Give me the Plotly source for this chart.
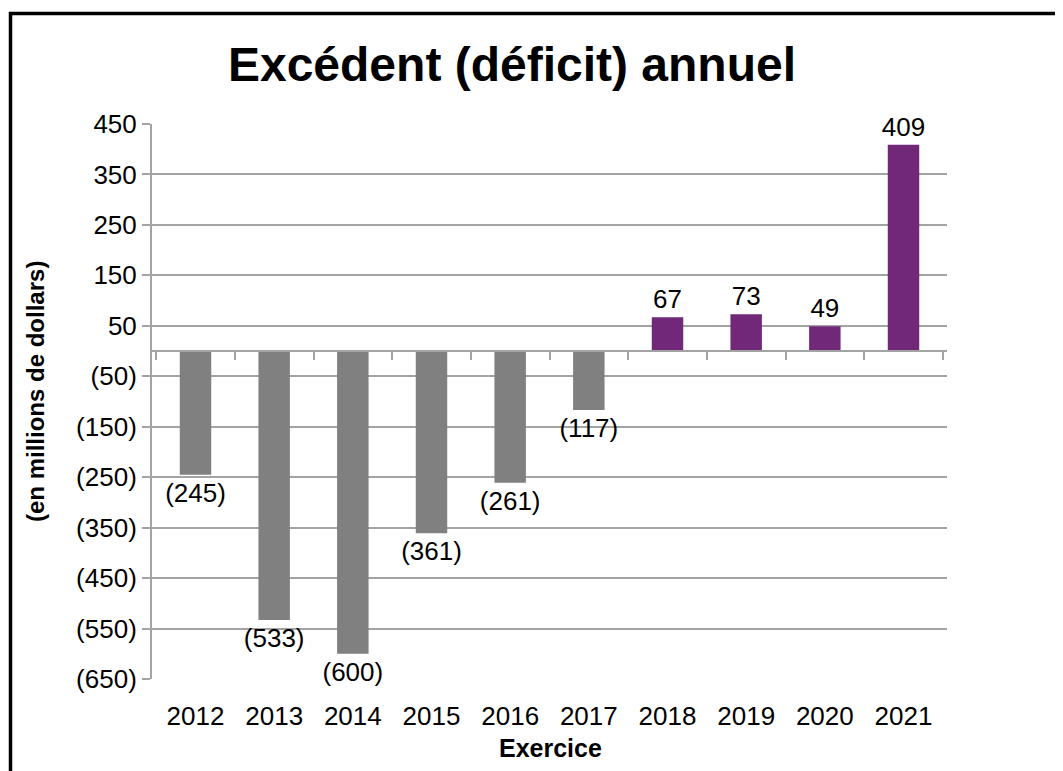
import plotly.graph_objects as go

years = ["2012", "2013", "2014", "2015", "2016", "2017", "2018", "2019", "2020", "2021"]
values = [-245, -533, -600, -361, -261, -117, 67, 73, 49, 409]
y_tickvals = [450, 350, 250, 150, 50, -50, -150, -250, -350, -450, -550, -650]
y_ticktext = ["450", "350", "250", "150", "50", "(50)", "(150)", "(250)", "(350)", "(450)", "(550)", "(650)"]
title_text = "Excédent (déficit) annuel"
y_title = "(en millions de dollars)"
x_title = "Exercice"

GRAY_BAR = "#808080"
PURPLE = "#712878"
GRID = "#A3A3A3"
FONT = "Liberation Sans, Arial, sans-serif"

OFF = 8  # page body margin offset
W, H = 1063, 771
L, T = 152 - OFF, 124 - OFF
pw, ph = 947 - 152, 679 - 124
R, B = W - L - pw, H - T - ph

def px_x(p):
    return (p - OFF - L) / pw

def px_y(p):
    return 1 - (p - OFF - T) / ph

ymin, ymax = -650, 450

labels = [f"({abs(v)})" if v < 0 else f"{v}" for v in values]
colors = [GRAY_BAR if v < 0 else PURPLE for v in values]

fig = go.Figure()
fig.add_trace(go.Bar(
    x=years, y=values, marker=dict(color=colors, line=dict(width=0)),
    width=0.4, text=labels, textposition="outside", constraintext="none",
    cliponaxis=False, textfont=dict(family=FONT, size=26, color="#000000"),
    hoverinfo="skip", showlegend=False,
))
# invisible trace on the crossing category axis (at y=0)
fig.add_trace(go.Scatter(
    x=years, y=[0] * len(years), xaxis="x2", mode="markers",
    marker=dict(opacity=0), hoverinfo="skip", showlegend=False,
))

zero_pos = (0 - ymin) / (ymax - ymin)

fig.update_layout(
    width=W, height=H,
    margin=dict(l=L, r=R, t=T, b=B, autoexpand=False),
    paper_bgcolor="white", plot_bgcolor="white",
    font=dict(family=FONT, color="#000000"),
    title=dict(text=f"<b>{title_text}</b>", x=(512 - OFF) / W, y=1 - (64 - OFF) / H,
               xref="container", yref="container", xanchor="center", yanchor="middle",
               font=dict(family=FONT, size=48, color="#000000")),
    xaxis=dict(type="category", categoryarray=years, showline=False, showgrid=False,
               zeroline=False, ticks="outside", ticklen=14, tickcolor="rgba(0,0,0,0)",
               tickfont=dict(family=FONT, size=26, color="#000000")),
    xaxis2=dict(type="category", categoryarray=years, overlaying="x", matches="x",
                anchor="free", position=zero_pos, side="bottom",
                showline=True, linecolor=GRID, linewidth=2,
                ticks="outside", ticklen=8, tickwidth=2, tickcolor=GRID,
                tickson="boundaries", showticklabels=False, showgrid=False, zeroline=False),
    yaxis=dict(range=[ymin, ymax], tickmode="array", tickvals=y_tickvals, ticktext=y_ticktext,
               showline=True, linecolor=GRID, linewidth=2, ticks="outside", ticklen=8,
               tickwidth=2, tickcolor=GRID, showgrid=True, gridcolor=GRID, gridwidth=2,
               zeroline=False, tickfont=dict(family=FONT, size=26, color="#000000")),
    annotations=[
        dict(text=f"<b>{y_title}</b>", x=px_x(35), y=px_y(392), xref="paper", yref="paper",
             textangle=-90, showarrow=False, xanchor="center", yanchor="middle",
             font=dict(family=FONT, size=24, color="#000000")),
        dict(text=f"<b>{x_title}</b>", x=px_x(550), y=px_y(748), xref="paper", yref="paper",
             showarrow=False, xanchor="center", yanchor="middle",
             font=dict(family=FONT, size=25, color="#000000")),
    ],
    shapes=[
        dict(type="rect", xref="paper", yref="paper",
             x0=px_x(10.5), x1=px_x(1200), y0=px_y(900), y1=px_y(13.5),
             line=dict(color="#000000", width=3.5), fillcolor="rgba(0,0,0,0)", layer="above"),
    ],
)

fig.write_html("out.html")
